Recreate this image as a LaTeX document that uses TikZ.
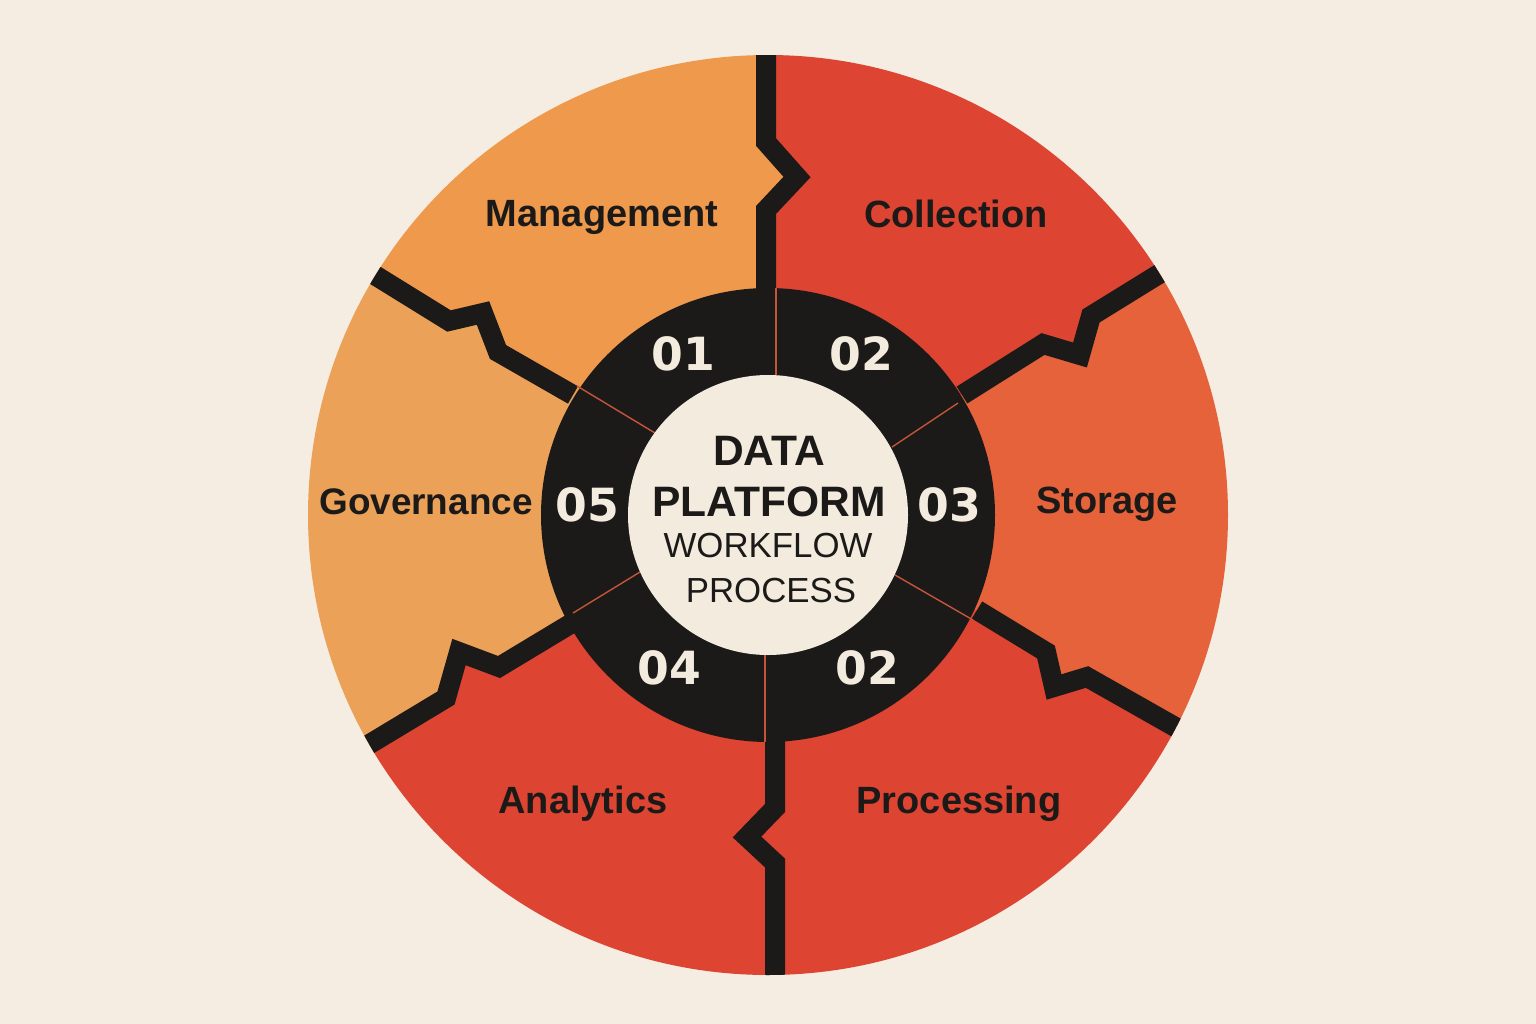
\documentclass[tikz,border=0pt]{standalone}
\usepackage{fontspec}
\setmainfont{Liberation Sans}
\newfontfamily\numfont{DejaVu Sans}
\usetikzlibrary{arrows}

\definecolor{paper}{HTML}{F5EDE2}
\definecolor{ink}{HTML}{1C1A19}
\definecolor{amber}{HTML}{EE994C}
\definecolor{sand}{HTML}{ECA159}
\definecolor{brick}{HTML}{DD4431}
\definecolor{coral}{HTML}{E5623A}
\definecolor{cream}{HTML}{F3EBDE}
\definecolor{seam}{HTML}{C4553A}

\begin{document}
\begin{tikzpicture}[x=0.01cm,y=-0.01cm,
	lbl/.style={anchor=base,color=ink,font=\fontsize{10.8}{13}\selectfont\bfseries},
	num/.style={color=cream,font=\numfont\bfseries\fontsize{13}{15}\selectfont},
	hubtxt/.style={color=ink,inner sep=0pt}]

\fill[color=paper] (0,0) rectangle (1536,1024);
\useasboundingbox (0,0) rectangle (1536,1024);

\coordinate (C) at (768,515);

\coordinate (t1) at (766,290);
\coordinate (t2) at (766,210);
\coordinate (t3) at (797,177);
\coordinate (t4) at (766,142);
\coordinate (t5) at (766,-60);

\coordinate (u1) at (962,395);
\coordinate (u2) at (1043,344);
\coordinate (u3) at (1080,355);
\coordinate (u4) at (1091,316);
\coordinate (u5) at (1159,274);
\coordinate (u6) at (1288,194);

\coordinate (l1) at (977,610);
\coordinate (l2) at (1046,652);
\coordinate (l3) at (1054,687);
\coordinate (l4) at (1087,677);
\coordinate (l5) at (1177,728);
\coordinate (l6) at (1300,792);

\coordinate (b1) at (775,740);
\coordinate (b2) at (775,808);
\coordinate (b3) at (747,837);
\coordinate (b4) at (775,863);
\coordinate (b5) at (775,1100);

\coordinate (w1) at (572,623);
\coordinate (w2) at (499,667);
\coordinate (w3) at (459,652);
\coordinate (w4) at (446,698);
\coordinate (w5) at (368,745);
\coordinate (w6) at (240,818);

\coordinate (v1) at (573,395);
\coordinate (v2) at (498,352);
\coordinate (v3) at (483,313);
\coordinate (v4) at (449,321);
\coordinate (v5) at (373,274);
\coordinate (v6) at (245,195);

\begin{scope}
\clip (C) circle[radius=460];

\fill[color=amber]
	(C)--(t1)--(t2)--(t3)--(t4)--(t5)
		--(v6)--(v5)--(v4)--(v3)--(v2)--(v1)--cycle;
\fill[color=brick]
	(C)--(t1)--(t2)--(t3)--(t4)--(t5)
		--(u6)--(u5)--(u4)--(u3)--(u2)--(u1)--cycle;
\fill[color=coral]
	(C)--(u1)--(u2)--(u3)--(u4)--(u5)--(u6)
		--(l6)--(l5)--(l4)--(l3)--(l2)--(l1)--cycle;
\fill[color=brick]
	(C)--(l1)--(l2)--(l3)--(l4)--(l5)--(l6)
		--(b5)--(b4)--(b3)--(b2)--(b1)--cycle;
\fill[color=brick]
	(C)--(b1)--(b2)--(b3)--(b4)--(b5)
		--(w6)--(w5)--(w4)--(w3)--(w2)--(w1)--cycle;
\fill[color=sand]
	(C)--(w1)--(w2)--(w3)--(w4)--(w5)--(w6)
		--(v6)--(v5)--(v4)--(v3)--(v2)--(v1)--cycle;

\draw[color=ink,line width=2mm] (t1)--(t2)--(t3)--(t4)--(t5);
\draw[color=ink,line width=2mm] (u1)--(u2)--(u3)--(u4)--(u5)--(u6);
\draw[color=ink,line width=2mm] (l1)--(l2)--(l3)--(l4)--(l5)--(l6);
\draw[color=ink,line width=2mm] (b1)--(b2)--(b3)--(b4)--(b5);
\draw[color=ink,line width=2mm] (w1)--(w2)--(w3)--(w4)--(w5)--(w6);
\draw[color=ink,line width=2mm] (v1)--(v2)--(v3)--(v4)--(v5)--(v6);
\end{scope}

\fill[color=ink] (C) circle[radius=227];

\draw[color=seam,line width=0.4pt] (776,288)--(776,375);
\draw[color=seam,line width=0.4pt] (958,403)--(892,447);
\draw[color=seam,line width=0.4pt] (895,575)--(973,620);
\draw[color=seam,line width=0.4pt] (765,655)--(765,742);
\draw[color=seam,line width=0.4pt] (640,572)--(573,613);
\draw[color=seam,line width=0.4pt] (577,386)--(655,433);

\fill[color=cream] (C) circle[radius=140];

\node[num] (n1) at (683,354) {01};
\node[num] (n2) at (861,354) {02};
\node[num] (n3) at (949,505) {03};
\node[num] (n4) at (669,668) {04};
\node[num] (n6) at (867,668) {02};
\node[num] (n5) at (587,505) {05};

\node[hubtxt,font=\fontsize{12.1}{14}\selectfont\bfseries] (data) at (769,451) {DATA};
\node[hubtxt,font=\fontsize{12.1}{14}\selectfont\bfseries] (platform) at (769,502) {PLATFORM};
\node[hubtxt,font=\fontsize{9.9}{12}\selectfont] (workflow) at (768,546) {WORKFLOW};
\node[hubtxt,font=\fontsize{9.9}{12}\selectfont] (process) at (771,591) {PROCESS};

\node[lbl] (mgmt) at (602,226) {Management};
\node[lbl] (coll) at (956,227) {Collection};
\node[lbl] (stor) at (1107,513) {Storage};
\node[lbl] (proc) at (959,813) {Processing};
\node[lbl] (anal) at (583,813) {Analytics};
\node[lbl,font=\fontsize{10.5}{13}\selectfont\bfseries] (gov) at (426,514) {Governance};

\end{tikzpicture}
\end{document}
